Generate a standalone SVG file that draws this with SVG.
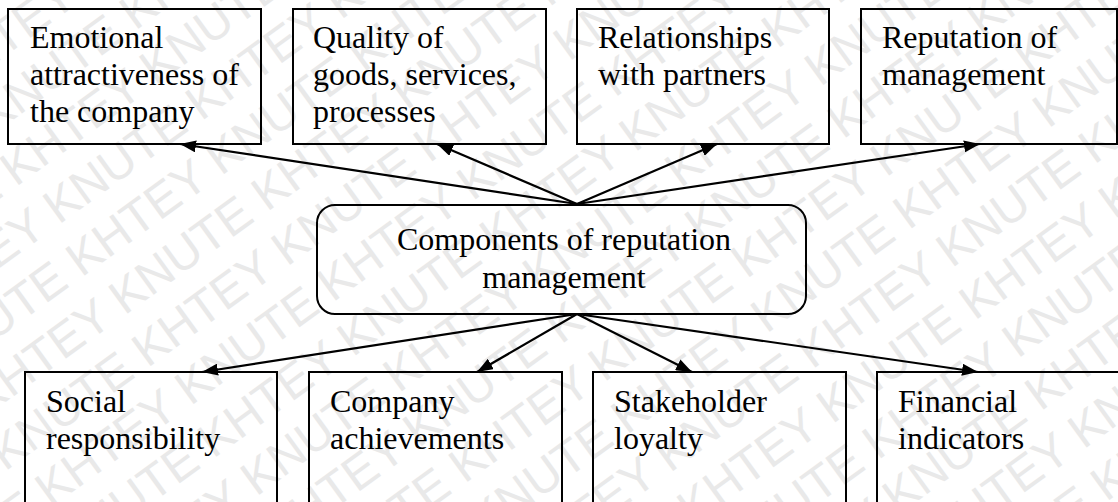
<svg xmlns="http://www.w3.org/2000/svg" width="1118" height="502" viewBox="0 0 1118 502">
  <style>
    .wm { font-family: "Liberation Sans", Arial, sans-serif; font-size: 48px; fill: #e9e9e9; }
    .box { fill: none; stroke: #000; stroke-width: 2; }
    .lbl { font-family: "Liberation Serif", "Times New Roman", serif; font-size: 32px; fill: #000; }
    .conn { stroke: #000; stroke-width: 2.2; fill: none; marker-end: url(#arrow); }
  </style>
  <defs>
    <marker id="arrow" markerUnits="userSpaceOnUse" markerWidth="17" markerHeight="12" refX="16" refY="6" orient="auto">
      <path d="M0,0 L16,6 L0,12 z" fill="#000"/>
    </marker>
  </defs>

  <rect width="1118" height="502" fill="#fff"/>

  <!-- background lettering, diagonal rows -->
  <g id="watermark" transform="rotate(-36 559 251)">
    <text class="wm" x="-700" y="-400">KHTEY KNUTE KHTEY KNUTE KHTEY KNUTE KHTEY KNUTE KHTEY KNUTE KHTEY KNUTE KHTEY KNUTE</text>
    <text class="wm" x="-540" y="-344">KHTEY KNUTE KHTEY KNUTE KHTEY KNUTE KHTEY KNUTE KHTEY KNUTE KHTEY KNUTE KHTEY KNUTE</text>
    <text class="wm" x="-700" y="-288">KHTEY KNUTE KHTEY KNUTE KHTEY KNUTE KHTEY KNUTE KHTEY KNUTE KHTEY KNUTE KHTEY KNUTE</text>
    <text class="wm" x="-540" y="-232">KHTEY KNUTE KHTEY KNUTE KHTEY KNUTE KHTEY KNUTE KHTEY KNUTE KHTEY KNUTE KHTEY KNUTE</text>
    <text class="wm" x="-700" y="-176">KHTEY KNUTE KHTEY KNUTE KHTEY KNUTE KHTEY KNUTE KHTEY KNUTE KHTEY KNUTE KHTEY KNUTE</text>
    <text class="wm" x="-540" y="-120">KHTEY KNUTE KHTEY KNUTE KHTEY KNUTE KHTEY KNUTE KHTEY KNUTE KHTEY KNUTE KHTEY KNUTE</text>
    <text class="wm" x="-700" y="-64">KHTEY KNUTE KHTEY KNUTE KHTEY KNUTE KHTEY KNUTE KHTEY KNUTE KHTEY KNUTE KHTEY KNUTE</text>
    <text class="wm" x="-540" y="-8">KHTEY KNUTE KHTEY KNUTE KHTEY KNUTE KHTEY KNUTE KHTEY KNUTE KHTEY KNUTE KHTEY KNUTE</text>
    <text class="wm" x="-700" y="48">KHTEY KNUTE KHTEY KNUTE KHTEY KNUTE KHTEY KNUTE KHTEY KNUTE KHTEY KNUTE KHTEY KNUTE</text>
    <text class="wm" x="-540" y="104">KHTEY KNUTE KHTEY KNUTE KHTEY KNUTE KHTEY KNUTE KHTEY KNUTE KHTEY KNUTE KHTEY KNUTE</text>
    <text class="wm" x="-700" y="160">KHTEY KNUTE KHTEY KNUTE KHTEY KNUTE KHTEY KNUTE KHTEY KNUTE KHTEY KNUTE KHTEY KNUTE</text>
    <text class="wm" x="-540" y="216">KHTEY KNUTE KHTEY KNUTE KHTEY KNUTE KHTEY KNUTE KHTEY KNUTE KHTEY KNUTE KHTEY KNUTE</text>
    <text class="wm" x="-700" y="272">KHTEY KNUTE KHTEY KNUTE KHTEY KNUTE KHTEY KNUTE KHTEY KNUTE KHTEY KNUTE KHTEY KNUTE</text>
    <text class="wm" x="-540" y="328">KHTEY KNUTE KHTEY KNUTE KHTEY KNUTE KHTEY KNUTE KHTEY KNUTE KHTEY KNUTE KHTEY KNUTE</text>
    <text class="wm" x="-700" y="384">KHTEY KNUTE KHTEY KNUTE KHTEY KNUTE KHTEY KNUTE KHTEY KNUTE KHTEY KNUTE KHTEY KNUTE</text>
    <text class="wm" x="-540" y="440">KHTEY KNUTE KHTEY KNUTE KHTEY KNUTE KHTEY KNUTE KHTEY KNUTE KHTEY KNUTE KHTEY KNUTE</text>
    <text class="wm" x="-700" y="496">KHTEY KNUTE KHTEY KNUTE KHTEY KNUTE KHTEY KNUTE KHTEY KNUTE KHTEY KNUTE KHTEY KNUTE</text>
    <text class="wm" x="-540" y="552">KHTEY KNUTE KHTEY KNUTE KHTEY KNUTE KHTEY KNUTE KHTEY KNUTE KHTEY KNUTE KHTEY KNUTE</text>
    <text class="wm" x="-700" y="608">KHTEY KNUTE KHTEY KNUTE KHTEY KNUTE KHTEY KNUTE KHTEY KNUTE KHTEY KNUTE KHTEY KNUTE</text>
    <text class="wm" x="-540" y="664">KHTEY KNUTE KHTEY KNUTE KHTEY KNUTE KHTEY KNUTE KHTEY KNUTE KHTEY KNUTE KHTEY KNUTE</text>
    <text class="wm" x="-700" y="720">KHTEY KNUTE KHTEY KNUTE KHTEY KNUTE KHTEY KNUTE KHTEY KNUTE KHTEY KNUTE KHTEY KNUTE</text>
    <text class="wm" x="-540" y="776">KHTEY KNUTE KHTEY KNUTE KHTEY KNUTE KHTEY KNUTE KHTEY KNUTE KHTEY KNUTE KHTEY KNUTE</text>
    <text class="wm" x="-700" y="832">KHTEY KNUTE KHTEY KNUTE KHTEY KNUTE KHTEY KNUTE KHTEY KNUTE KHTEY KNUTE KHTEY KNUTE</text>
    <text class="wm" x="-540" y="888">KHTEY KNUTE KHTEY KNUTE KHTEY KNUTE KHTEY KNUTE KHTEY KNUTE KHTEY KNUTE KHTEY KNUTE</text>
  </g>

  <!-- connectors from the central node -->
  <g id="connectors">
    <line class="conn" x1="577" y1="204" x2="180" y2="144"/>
    <line class="conn" x1="577" y1="204" x2="437" y2="144"/>
    <line class="conn" x1="577" y1="204" x2="717" y2="144"/>
    <line class="conn" x1="577" y1="204" x2="980" y2="144"/>
    <line class="conn" x1="577" y1="314" x2="202" y2="372"/>
    <line class="conn" x1="577" y1="314" x2="477" y2="372"/>
    <line class="conn" x1="577" y1="314" x2="692" y2="372"/>
    <line class="conn" x1="577" y1="314" x2="978" y2="372"/>
  </g>

  <!-- central node -->
  <g id="center">
    <rect class="box" x="317" y="205" width="489" height="109" rx="18" ry="18"/>
    <text class="lbl" x="564" y="250" text-anchor="middle">Components of reputation</text>
    <text class="lbl" x="564" y="288" text-anchor="middle">management</text>
  </g>

  <!-- upper row -->
  <g id="emotional">
    <rect class="box" x="8" y="9" width="253" height="135"/>
    <text class="lbl" x="30" y="48">Emotional</text>
    <text class="lbl" x="30" y="85">attractiveness of</text>
    <text class="lbl" x="30" y="122">the company</text>
  </g>
  <g id="quality">
    <rect class="box" x="293" y="9" width="253" height="135"/>
    <text class="lbl" x="313" y="48">Quality of</text>
    <text class="lbl" x="313" y="85">goods, services,</text>
    <text class="lbl" x="313" y="122">processes</text>
  </g>
  <g id="partners">
    <rect class="box" x="577" y="9" width="252" height="135"/>
    <text class="lbl" x="598" y="48">Relationships</text>
    <text class="lbl" x="598" y="85">with partners</text>
  </g>
  <g id="mgmt-reputation">
    <rect class="box" x="861" y="9" width="256" height="135"/>
    <text class="lbl" x="882" y="48">Reputation of</text>
    <text class="lbl" x="882" y="85">management</text>
  </g>

  <!-- lower row -->
  <g id="social">
    <rect class="box" x="25" y="372" width="252" height="160"/>
    <text class="lbl" x="46" y="412">Social</text>
    <text class="lbl" x="46" y="449">responsibility</text>
  </g>
  <g id="achievements">
    <rect class="box" x="309" y="372" width="253" height="160"/>
    <text class="lbl" x="330" y="412">Company</text>
    <text class="lbl" x="330" y="449">achievements</text>
  </g>
  <g id="loyalty">
    <rect class="box" x="593" y="372" width="253" height="160"/>
    <text class="lbl" x="614" y="412">Stakeholder</text>
    <text class="lbl" x="614" y="449">loyalty</text>
  </g>
  <g id="financial">
    <rect class="box" x="877" y="372" width="260" height="160"/>
    <text class="lbl" x="898" y="412">Financial</text>
    <text class="lbl" x="898" y="449">indicators</text>
  </g>
</svg>
